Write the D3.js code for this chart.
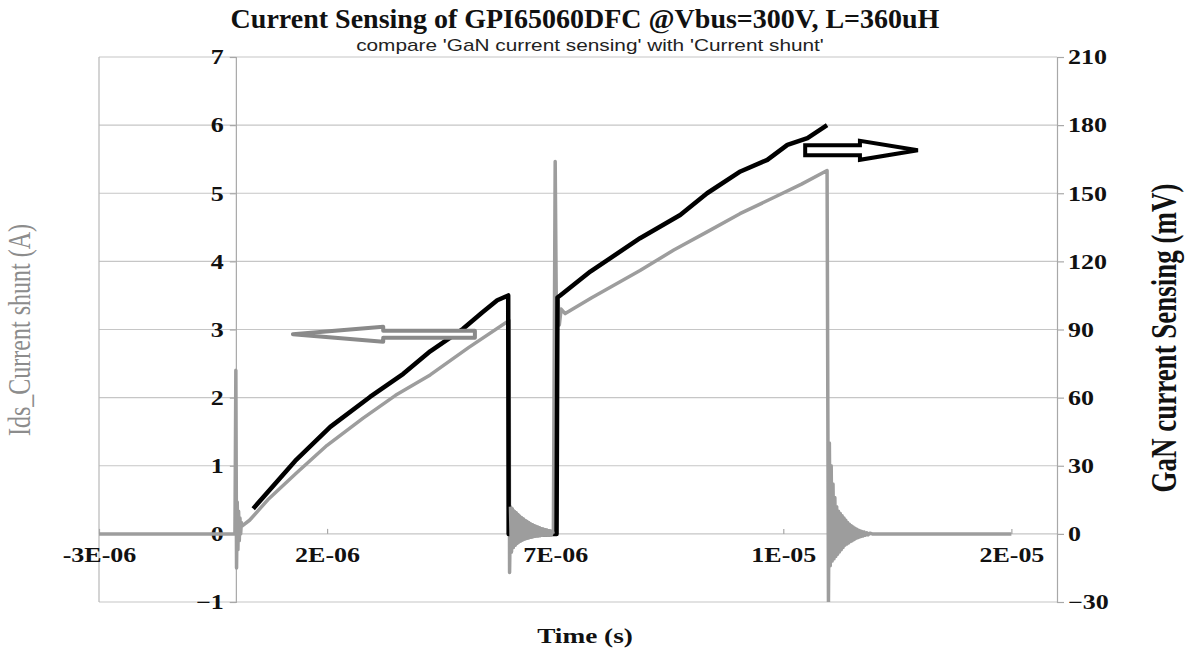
<!DOCTYPE html>
<html>
<head>
<meta charset="utf-8">
<script src="https://cdn.jsdelivr.net/npm/d3@7"></script>
<style>
  body { margin: 0; background: #fff; }
</style>
</head>
<body>
<div id="chart"></div>
<script>
// time values in microseconds (axis labels show seconds)
// Current shunt, left axis (A)
var shuntTime = [0.38, 1.30, 2.07, 2.94, 3.67, 4.26, 4.98, 5.40, 5.73, 5.97, 5.98, 7.03, 7.05, 7.11,
  7.77, 8.86, 9.74, 10.33, 11.06, 11.65, 12.09, 12.53, 12.96];
var shuntAmp = [0.37, 1.07, 1.57, 2.01, 2.35, 2.68, 3.01, 3.25, 3.43, 3.50, 0.0, 0.0, 3.47, 3.50,
  3.85, 4.34, 4.68, 5.00, 5.32, 5.49, 5.71, 5.81, 6.00];

// GaN current sensing, right axis (mV)
var senseTime = [-3.00, -0.02, 0.00, 0.015, 0.03, 0.045, 0.06, 0.075, 0.09, 0.105, 0.12, 0.14,
  0.30, 0.70, 1.34, 2.00, 2.79, 3.50, 4.26, 5.10, 5.99,
  6.00, 6.02, 6.04, 6.06, 6.08, 6.10, 6.12, 6.14, 6.16, 6.18, 6.20, 6.22, 6.24, 6.26, 6.28, 6.30,
  6.32, 6.34, 6.36, 6.38, 6.40, 6.42, 6.44, 6.46, 6.48, 6.50, 6.52, 6.54, 6.56, 6.58, 6.60, 6.62,
  6.64, 6.66, 6.68, 6.70, 6.72, 6.74, 6.76, 6.78, 6.80, 6.82, 6.84, 6.86, 6.88, 6.90, 6.92, 6.94, 6.96,
  7.00, 7.03, 7.06, 7.09, 7.13, 7.22, 7.80, 8.86, 9.60, 10.33, 11.05, 11.78, 12.40, 12.96,
  12.99, 13.01, 13.03, 13.05, 13.07, 13.09, 13.11, 13.13, 13.15, 13.17, 13.19, 13.21, 13.23, 13.25,
  13.27, 13.29, 13.31, 13.33, 13.35, 13.37, 13.39, 13.41, 13.43, 13.45, 13.47, 13.49, 13.51, 13.53,
  13.55, 13.57, 13.59, 13.61, 13.63, 13.65, 13.67, 13.69, 13.71, 13.73, 13.75, 13.77, 13.80, 13.83,
  13.86, 13.90, 13.95, 17.00];
var senseMv = [0, 0, 72, -15, 14, -7, 10, -3, 7, 0, 5, 3.5,
  6, 15, 27, 39, 51, 61, 70, 82, 94,
  -17, 12, -8, 11, -6, 10, -5, 9.3, -4.2, 8.5, -3.6, 7.8, -3.1, 7.1, -2.7, 6.5,
  -2.3, 5.9, -2, 5.4, -1.8, 4.9, -1.6, 4.4, -1.4, 4.0, -1.2, 3.6, -1.0, 3.2, -0.9, 2.9,
  -0.8, 2.6, -0.7, 2.3, -0.6, 2.0, -0.5, 1.8, -0.5, 1.6, -0.4, 1.4, -0.4, 1.2, -0.3, 1.0, 0,
  164, 85, 104, 92, 99, 97, 104, 116, 125, 133, 141, 148, 154, 160,
  -30, 40, -14, 30, -12, 22, -11, 16, -10, 12, -9, 10, -8, 9,
  -7, 8, -6, 7, -5, 6, -4.5, 5, -4, 4.2, -3.4, 3.6, -3, 3,
  -2.5, 2.5, -2, 2, -1.7, 1.6, -1.4, 1.3, -1.1, 1, -0.9, 0.8, -0.6, 0.5,
  -0.4, 0.3, 0, 0];

var xTicks = [-3, 2, 7, 12, 17];
var xTickLabels = ["-3E-06", "2E-06", "7E-06", "1E-05", "2E-05"];
var leftTicks = [-1, 0, 1, 2, 3, 4, 5, 6, 7];
var rightTicks = [-30, 0, 30, 60, 90, 120, 150, 180, 210];

// hollow annotation arrows (time in us, level in A)
var arrowLeft = { tail: 5.24, base: 3.23, tip: 1.25, level: 2.93 };
var arrowRight = { tail: 12.48, base: 13.68, tip: 14.95, level: 5.63 };

var svgWidth = 1188;
var svgHeight = 650;
var stretch = 1.3;
var serif = "'Liberation Serif', 'Times New Roman', serif";

var svg = d3.select("#chart")
  .append("svg")
  .attr("width", svgWidth)
  .attr("height", svgHeight)
  .style("background", "#fff");

var x = d3.scaleLinear().domain([-3, 18]).range([99, 1057]);
var yLeft = d3.scaleLinear().domain([-1, 7]).range([602, 57]);
var yRight = d3.scaleLinear().domain([-30, 210]).range([602, 57]);

// text helper: wide glyphs like the reference
function addText(px, py, str, size, weight, anchor, fill, rotate, sx) {
  var g = svg.append("g")
    .attr("transform", "translate(" + px + "," + py + ") scale(" + sx + ",1)" + (rotate ? " rotate(-90)" : ""));
  return g.append("text")
    .attr("text-anchor", anchor)
    .style("font-family", serif)
    .style("font-size", size + "px")
    .style("font-weight", weight)
    .attr("fill", fill)
    .text(str);
}

// gridlines
svg.append("g").selectAll("line")
  .data(leftTicks)
  .enter()
  .append("line")
  .attr("x1", x(-3))
  .attr("x2", x(18))
  .attr("y1", d => yLeft(d))
  .attr("y2", d => yLeft(d))
  .attr("stroke", "#c6c6c6")
  .attr("stroke-width", 1.2);

// plot area left edge
svg.append("line")
  .attr("x1", x(-3)).attr("x2", x(-3))
  .attr("y1", yLeft(7)).attr("y2", yLeft(-1))
  .attr("stroke", "#b8b8b8")
  .attr("stroke-width", 1.2);

// primary axis at t = 0
var leftAxis = d3.axisLeft(yLeft).tickValues(leftTicks).tickSize(6).tickFormat(d3.format("d"));
var gl = svg.append("g")
  .attr("transform", "translate(" + x(0) + ",0)")
  .call(leftAxis);

// secondary axis at right edge
var rightAxis = d3.axisRight(yRight).tickValues(rightTicks).tickSize(7).tickFormat(d3.format("d"));
var gr = svg.append("g")
  .attr("transform", "translate(" + x(18) + ",0)")
  .call(rightAxis);

// time axis crossing at 0
var bottomAxis = d3.axisBottom(x).tickValues(xTicks).tickSize(-5).tickFormat((d, i) => xTickLabels[i]);
var gb = svg.append("g")
  .attr("transform", "translate(0," + yLeft(0) + ")")
  .call(bottomAxis);
gb.select(".domain").remove();

[gl, gr, gb].forEach(function(g) {
  g.selectAll(".domain, .tick line").attr("stroke", "#a8a8a8").attr("stroke-width", 1.2);
  g.selectAll("text")
    .style("font-family", serif)
    .style("font-size", "20px")
    .style("font-weight", "bold")
    .attr("fill", "#111");
});
gl.selectAll("text").attr("x", -12 / stretch).attr("dy", "0.34em").attr("transform", "scale(" + stretch + ",1)");
gr.selectAll("text").attr("x", 11 / stretch).attr("dy", "0.34em").attr("transform", "scale(" + stretch + ",1)");
gb.selectAll("text").attr("y", 28).attr("dy", 0).attr("transform", "scale(" + stretch + ",1)");

// series
svg.append("clipPath").attr("id", "plotclip")
  .append("rect")
  .attr("x", x(-3)).attr("y", yLeft(7) - 3)
  .attr("width", x(18) - x(-3)).attr("height", yLeft(-1) - yLeft(7) + 3);

var senseData = senseTime.map((t, i) => ({ t: t, v: senseMv[i] }));
var shuntData = shuntTime.map((t, i) => ({ t: t, v: shuntAmp[i] }));

var senseLine = d3.line().x(d => x(d.t)).y(d => yRight(d.v));
var shuntLine = d3.line().x(d => x(d.t)).y(d => yLeft(d.v));

function drawSense(data) {
  svg.append("path")
    .datum(data)
    .attr("clip-path", "url(#plotclip)")
    .attr("d", senseLine)
    .attr("fill", "none")
    .attr("stroke", "#9d9d9d")
    .attr("stroke-width", 3.5)
    .attr("stroke-linejoin", "round");
}

drawSense(senseData);

svg.append("path")
  .datum(shuntData)
  .attr("d", shuntLine)
  .attr("fill", "none")
  .attr("stroke", "#000")
  .attr("stroke-width", 4.5)
  .attr("stroke-linejoin", "round");

// the ringing while the switch is off sits over the shunt trace
drawSense(senseData.filter(d => d.t > 6.005 && d.t < 6.99));

// annotation arrows
function arrowPath(a, shaftHalf, headHalf) {
  var yc = yLeft(a.level);
  var pts = [
    [x(a.tip), yc],
    [x(a.base), yc - headHalf],
    [x(a.base), yc - shaftHalf],
    [x(a.tail), yc - shaftHalf],
    [x(a.tail), yc + shaftHalf],
    [x(a.base), yc + shaftHalf],
    [x(a.base), yc + headHalf]
  ];
  return d3.line()(pts) + "Z";
}

svg.append("path")
  .attr("d", arrowPath(arrowLeft, 3.5, 7.5))
  .attr("fill", "#fff")
  .attr("stroke", "#8a8a8a")
  .attr("stroke-width", 4)
  .attr("stroke-linejoin", "round");

svg.append("path")
  .attr("d", arrowPath(arrowRight, 5, 9.5))
  .attr("fill", "#fff")
  .attr("stroke", "#000")
  .attr("stroke-width", 4)
  .attr("stroke-linejoin", "miter");

// titles
addText(585, 28, "Current Sensing of GPI65060DFC @Vbus=300V, L=360uH", 28, "bold", "middle", "#111", false, 1);
addText(590, 51, "compare 'GaN current sensing' with 'Current shunt'", 16, "normal", "middle", "#222", false, stretch)
  .style("font-family", "'Liberation Sans', Arial, sans-serif");
addText(585, 643, "Time (s)", 21, "bold", "middle", "#111", false, stretch);
addText(30, 330, "Ids_Current shunt (A)", 24, "normal", "middle", "#8c8c8c", true, stretch);
addText(1176, 338, "GaN current Sensing (mV)", 27, "bold", "middle", "#111", true, stretch);
</script>
</body>
</html>
